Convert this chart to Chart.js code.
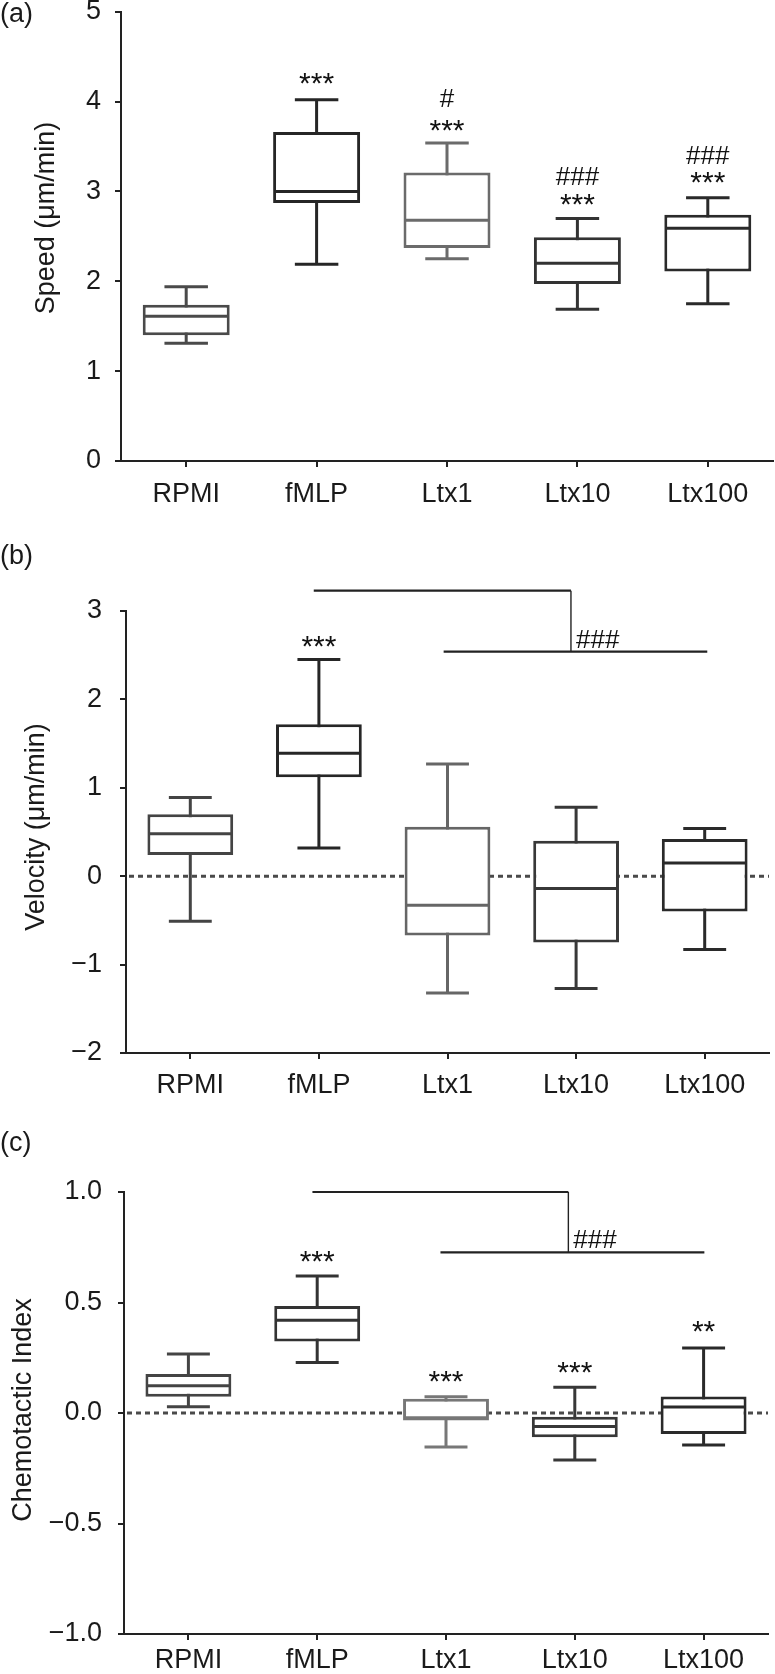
<!DOCTYPE html>
<html>
<head>
<meta charset="utf-8">
<script src="https://cdn.jsdelivr.net/npm/chart.js@4.4.1/dist/chart.umd.min.js"></script>
<style>
  html, body { margin: 0; padding: 0; background: #fff; }
  body { width: 775px; height: 1674px; position: relative; overflow: hidden; }
  .panel { position: absolute; left: 0; width: 775px; }
</style>
</head>
<body>
<div class="panel" style="top:0;height:530px"><canvas id="speed"></canvas></div>
<div class="panel" style="top:530px;height:575px"><canvas id="velocity"></canvas></div>
<div class="panel" style="top:1105px;height:569px"><canvas id="chemo"></canvas></div>
<script>
const groups = ['RPMI', 'fMLP', 'Ltx1', 'Ltx10', 'Ltx100'];

// (a) speed (um/min) - box summaries
const speedMin = [1.31, 2.19, 2.25, 1.69, 1.75];
const speedQ1  = [1.40, 2.87, 2.37, 1.97, 2.11];
const speedMed = [1.61, 3.00, 2.68, 2.20, 2.59];
const speedQ3  = [1.74, 3.66, 3.21, 2.49, 2.74];
const speedMax = [1.94, 4.02, 3.54, 2.70, 2.93];
const speedTicks = [0, 1, 2, 3, 4, 5];
const speedStars  = ['', '***', '***', '***', '***'];
const speedStarAt = [null, 4.26, 3.73, 2.91, 3.15];
const speedHash   = ['', '', '#', '###', '###'];
const speedHashAt = [null, null, 4.04, 3.17, 3.41];

// (b) velocity (um/min)
const velMin = [-0.51, 0.32, -1.32, -1.27, -0.83];
const velQ1  = [0.24, 1.12, -0.67, -0.75, -0.40];
const velMed = [0.48, 1.39, -0.33, -0.14, 0.15];
const velQ3  = [0.70, 1.72, 0.56, 0.40, 0.42];
const velMax = [0.89, 2.45, 1.27, 0.78, 0.54];
const velTicks = [-2, -1, 0, 1, 2, 3];
const velStars  = ['', '***', '', '', ''];
const velStarAt = [null, 2.66, null, null, null];
const velBracket = [3.23, 2.54]; // fMLP bar level, Ltx bar level

// (c) chemotactic index
const ciMin = [0.028, 0.228, -0.154, -0.213, -0.145];
const ciQ1  = [0.074, 0.324, -0.034, -0.110, -0.095];
const ciMed = [0.123, 0.420, -0.021, -0.061, 0.027];
const ciQ3  = [0.177, 0.484, 0.065, -0.017, 0.075];
const ciMax = [0.267, 0.620, 0.073, 0.116, 0.294];
const ciTicks = [-1, -0.5, 0, 0.5, 1];
const ciStars  = ['', '***', '***', '***', '**'];
const ciStarAt = [null, 0.71, 0.167, 0.207, 0.39];
const ciBracket = [1.0, 0.727];

const FONT = "'Liberation Sans', Arial, Helvetica, sans-serif";
Chart.defaults.font.family = FONT;
Chart.defaults.font.size = 27;
Chart.defaults.color = '#1a1a1a';

// typographic minus on negative ticks
const signed = (v, dp) => (v < 0 ? '\u2212' : '') + Math.abs(v).toFixed(dp);

function centerText(ctx, txt, x, yc) {
  const m = ctx.measureText(txt);
  ctx.fillText(txt, x, yc + (m.actualBoundingBoxAscent - m.actualBoundingBoxDescent) / 2);
}

function boxParts(p) {
  return {
    id: 'boxParts',
    beforeDatasetsDraw(chart) {
      const {ctx, chartArea: a, scales: {x, y}} = chart;
      ctx.save();
      if (p.zeroLine) {
        const y0 = y.getPixelForValue(0);
        ctx.strokeStyle = '#4a4a4a';
        ctx.lineWidth = 3;
        ctx.setLineDash([5, 4]);
        ctx.beginPath(); ctx.moveTo(a.left + 3, y0); ctx.lineTo(a.right, y0); ctx.stroke();
        ctx.setLineDash([]);
      }
      // whiskers + caps, drawn under the boxes
      chart.getDatasetMeta(0).data.forEach((bar, i) => {
        const cap = bar.width * 0.25;
        const lo = y.getPixelForValue(p.min[i]), hi = y.getPixelForValue(p.max[i]);
        ctx.strokeStyle = p.colors[i];
        ctx.lineWidth = 3;
        ctx.beginPath();
        ctx.moveTo(bar.x, lo); ctx.lineTo(bar.x, hi);
        ctx.moveTo(bar.x - cap, lo); ctx.lineTo(bar.x + cap, lo);
        ctx.moveTo(bar.x - cap, hi); ctx.lineTo(bar.x + cap, hi);
        ctx.stroke();
      });
      ctx.restore();
    },
    afterDatasetsDraw(chart) {
      const {ctx, scales: {x, y}} = chart;
      const ix = v => x.getPixelForValue(0) + v * (x.getPixelForValue(1) - x.getPixelForValue(0));
      ctx.save();
      // medians
      chart.getDatasetMeta(0).data.forEach((bar, i) => {
        const ym = y.getPixelForValue(p.med[i]);
        ctx.strokeStyle = p.colors[i];
        ctx.lineWidth = 3;
        ctx.beginPath();
        ctx.moveTo(bar.x - bar.width / 2 + 1, ym); ctx.lineTo(bar.x + bar.width / 2 - 1, ym);
        ctx.stroke();
      });
      ctx.fillStyle = '#111';
      ctx.textAlign = 'center';
      ctx.textBaseline = 'alphabetic';
      ctx.font = '30px ' + FONT;
      p.stars.forEach((s, i) => { if (s) centerText(ctx, s, x.getPixelForValue(i), y.getPixelForValue(p.starAt[i])); });
      ctx.font = '26px ' + FONT;
      (p.hash || []).forEach((s, i) => { if (s) centerText(ctx, s, x.getPixelForValue(i), y.getPixelForValue(p.hashAt[i])); });
      // comparison bracket
      if (p.bracket) {
        const yt = y.getPixelForValue(p.bracket[0]), yl = y.getPixelForValue(p.bracket[1]);
        const join = ix(p.joinAt);
        ctx.strokeStyle = '#222';
        ctx.lineWidth = 2.2;
        ctx.beginPath();
        ctx.moveTo(ix(p.topFrom), yt); ctx.lineTo(join, yt);
        ctx.moveTo(ix(p.lowFrom), yl); ctx.lineTo(ix(p.lowTo), yl);
        ctx.stroke();
        ctx.lineWidth = 1.4;
        ctx.beginPath(); ctx.moveTo(join, yt); ctx.lineTo(join, yl); ctx.stroke();
        ctx.textAlign = 'left';
        ctx.fillText('###', join + 5, yl - 4);
      }
      // panel letter and y title
      ctx.font = '27px ' + FONT;
      ctx.fillStyle = '#1a1a1a';
      ctx.textAlign = 'left';
      ctx.fillText(p.letter, 0, p.letterY);
      ctx.translate(p.titleX, p.titleY);
      ctx.rotate(-Math.PI / 2);
      ctx.textAlign = 'center';
      ctx.textBaseline = 'middle';
      ctx.fillText(p.title, 0, 0);
      ctx.restore();
    }
  };
}

function makePanel(id, p) {
  const axisColor = '#222';
  return new Chart(document.getElementById(id), {
    type: 'bar',
    data: {
      labels: groups,
      datasets: [{
        data: p.q1.map((v, i) => [v, p.q3[i]]),
        backgroundColor: '#fff',
        borderColor: p.colors,
        borderWidth: 3,
        borderSkipped: false,
        barPercentage: 0.667,
        categoryPercentage: 1
      }]
    },
    options: {
      responsive: true,
      maintainAspectRatio: false,
      animation: false,
      devicePixelRatio: 1,
      layout: { padding: { left: 0, right: p.padRight, top: p.padTop, bottom: 0 } },
      plugins: { legend: { display: false }, tooltip: { enabled: false } },
      scales: {
        x: {
          grid: { display: true, drawOnChartArea: false, offset: false, tickLength: 6, color: axisColor, lineWidth: 2 },
          border: { color: axisColor, width: 2 },
          ticks: { padding: p.xPad, color: '#1a1a1a', maxRotation: 0 },
          afterFit: s => { s.height = p.xHeight; s.paddingLeft = 0; s.paddingRight = 0; }
        },
        y: {
          min: p.ticks[0],
          max: p.ticks[p.ticks.length - 1],
          grid: { display: true, drawOnChartArea: false, tickLength: 6, color: axisColor, lineWidth: 2 },
          border: { color: axisColor, width: 2 },
          ticks: { padding: p.yPad, color: '#1a1a1a', callback: v => signed(v, p.dp) },
          afterBuildTicks: s => { s.ticks = p.ticks.map(v => ({ value: v })); },
          afterFit: s => { s.width = p.yWidth; s.paddingTop = 0; s.paddingBottom = 0; }
        }
      }
    },
    plugins: [boxParts(p)]
  });
}

makePanel('speed', {
  q1: speedQ1, q3: speedQ3, min: speedMin, max: speedMax, med: speedMed,
  ticks: speedTicks, dp: 0,
  colors: ['#4a4a4a', '#262626', '#6b6b6b', '#333', '#2a2a2a'],
  stars: speedStars, starAt: speedStarAt, hash: speedHash, hashAt: speedHashAt,
  letter: '(a)', letterY: 22, title: 'Speed (\u03bcm/min)', titleX: 47, titleY: 218,
  padTop: 11.7, padRight: 2, yWidth: 121, xHeight: 69, yPad: 14, xPad: 11
});

makePanel('velocity', {
  q1: velQ1, q3: velQ3, min: velMin, max: velMax, med: velMed,
  ticks: velTicks, dp: 0, zeroLine: true,
  colors: ['#444', '#262626', '#666', '#383838', '#2a2a2a'],
  stars: velStars, starAt: velStarAt,
  bracket: velBracket, topFrom: 0.96, joinAt: 2.96, lowFrom: 1.97, lowTo: 4.02,
  letter: '(b)', letterY: 34, title: 'Velocity (\u03bcm/min)', titleX: 37, titleY: 297,
  padTop: 81, padRight: 6, yWidth: 126, xHeight: 52, yPad: 18, xPad: 10
});

makePanel('chemo', {
  q1: ciQ1, q3: ciQ3, min: ciMin, max: ciMax, med: ciMed,
  ticks: ciTicks, dp: 1, zeroLine: true,
  colors: ['#444', '#333', '#777', '#383838', '#2a2a2a'],
  stars: ciStars, starAt: ciStarAt,
  bracket: ciBracket, topFrom: 0.963, joinAt: 2.95, lowFrom: 1.957, lowTo: 4.006,
  letter: '(c)', letterY: 46, title: 'Chemotactic Index', titleX: 24, titleY: 305,
  padTop: 87, padRight: 7, yWidth: 124, xHeight: 40, yPad: 16, xPad: 4
});
</script>
</body>
</html>
